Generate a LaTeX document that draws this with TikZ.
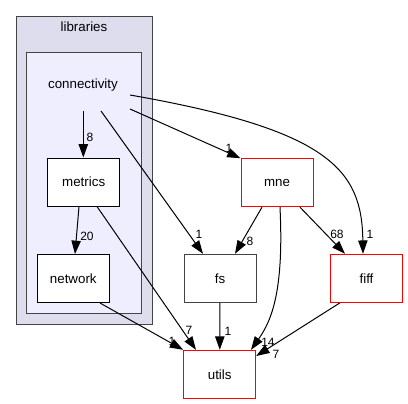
\documentclass[tikz,border=0pt]{standalone}
\usepackage{fontspec}
\setmainfont{Liberation Sans}
\usetikzlibrary{arrows.meta}
\definecolor{outerfill}{HTML}{DDDDEE}
\definecolor{innerfill}{HTML}{EEEEFF}
\definecolor{clusterborder}{HTML}{444444}
\begin{document}
\begin{tikzpicture}[x=0.75pt,y=-0.75pt,
  dirbox/.style={draw=black,fill=white,line width=0.75pt,minimum width=54pt,minimum height=36pt,inner sep=0pt,font=\fontsize{10}{12}\selectfont},
  redbox/.style={dirbox,draw=red},
  graybox/.style={dirbox,draw=clusterborder},
  lbl/.style={font=\fontsize{10}{12}\selectfont,inner sep=0pt},
  edge/.style={draw=black,line width=0.75pt,-{Triangle[length=10pt,width=7pt]}},
  elabel/.style={font=\fontsize{9}{11}\selectfont,inner sep=0pt}]
\useasboundingbox (0,0) rectangle (408,404);
% clusters
\draw[fill=outerfill,draw=clusterborder,line width=0.75pt] (16,16) rectangle (152,324);
\draw[fill=innerfill,draw=clusterborder,line width=0.75pt] (26.5,52) rectangle (141.5,313);
\node[lbl] (libraries) at (84,27) {libraries};
\node[lbl] (connectivity) at (83,85) {connectivity};
\coordinate (cA) at (83.3,111);
\coordinate (cB) at (101,111);
\coordinate (cC) at (130,109);
\coordinate (cD) at (130,95);
% nodes
\node[dirbox] (metrics) at (83.7,182) {metrics};
\node[dirbox] (network) at (73.3,278.5) {network};
\node[redbox] (mne) at (277,182.7) {mne};
\node[graybox] (fs) at (220,278.3) {fs};
\node[redbox] (fiff) at (366.5,278.3) {fiff};
\node[redbox] (utils) at (219.7,374.3) {utils};
% edges
\draw[edge] (cA) -- (metrics.north -| cA);
\node[elabel] at (90,137) {8};
\draw[edge] (metrics.south -| 79,0) -- (network.north -| 75,0);
\node[elabel] at (87,236) {20};
\draw[edge] (cB) -- (fs.north -| 203,0);
\node[elabel] at (199,234) {1};
\draw[edge] (cC) -- (mne.north west);
\node[elabel] at (229,148) {1};
\draw[edge] (cD) .. controls (330,130) and (362,170) .. (fiff.north -| 363,0);
\node[elabel] at (370,234) {1};
\draw[edge] (metrics.south -| 97,0) -- (utils.north -| 196,0);
\node[elabel] at (189,330) {7};
\draw[edge] (network.south -| 100,0) -- (utils.north west);
\node[elabel] at (172,341) {1};
\draw[edge] (mne.south -| 262,0) -- (fs.north -| 235,0);
\node[elabel] at (250,241) {8};
\draw[edge] (mne.south -| 300,0) -- (fiff.north -| 345,0);
\node[elabel] at (337,234) {68};
\draw[edge] (mne.south -| 280,0) .. controls (284,290) and (272,320) .. (utils.north -| 251,0);
\node[elabel] at (268,342) {14};
\draw[edge] (fs) -- (utils);
\node[elabel] at (228,331) {1};
\draw[edge] (fiff.south -| 340,0) -- (utils.north east |- 0,356);
\node[elabel] at (276,354) {7};
\end{tikzpicture}
\end{document}
